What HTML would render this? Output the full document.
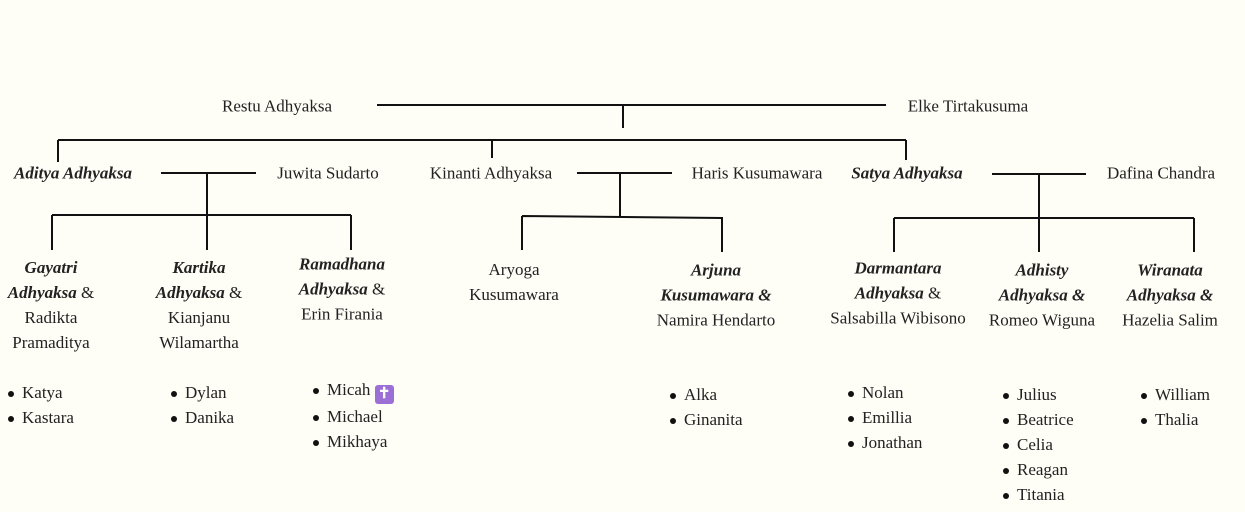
<!DOCTYPE html>
<html><head><meta charset="utf-8"><style>
body{margin:0;width:1245px;height:512px;background:#fefdf6;font-family:"Liberation Serif",serif;font-size:17px;color:#222;position:relative;overflow:hidden}
.t{position:absolute;white-space:nowrap;transform:translate(-50%,-50%);text-align:center;line-height:25px}
.b{font-style:italic;font-weight:bold}
.l{position:absolute;line-height:25px;white-space:nowrap}
.l div:before{content:"";display:inline-block;width:6px;height:6px;border-radius:50%;background:#111;margin-right:8px;vertical-align:middle}
svg{position:absolute;left:0;top:0}
.x{display:inline-block;width:19px;height:19px;background:#9b6fd6;color:#fff;border-radius:3px;text-align:center;line-height:19px;font-size:15px;font-weight:bold;vertical-align:-3px}
</style></head><body>
<svg width="1245" height="512" stroke="#111" stroke-width="2" fill="none">
<path d="M377 105H886M623 105V128M58 140H906M58 140V162M492 140V158M906 140V160"/>
<path d="M161 173H256M207 173V250M52 215H351M52 215V250M351 215V250"/>
<path d="M577 173H672M620 173V216M522 216L722 218M522 216V250M722 217V252"/>
<path d="M992 174H1086M1039 174V252M894 218H1194M894 218V252M1194 218V252"/>
</svg>
<div class="t" style="left:277px;top:106px">Restu Adhyaksa</div>
<div class="t" style="left:968px;top:106px">Elke Tirtakusuma</div>
<div class="t b" style="left:73px;top:173px">Aditya Adhyaksa</div>
<div class="t" style="left:328px;top:173px">Juwita Sudarto</div>
<div class="t" style="left:491px;top:173px">Kinanti Adhyaksa</div>
<div class="t" style="left:757px;top:173px">Haris Kusumawara</div>
<div class="t b" style="left:907px;top:173px">Satya Adhyaksa</div>
<div class="t" style="left:1161px;top:173px">Dafina Chandra</div>

<div class="t" style="left:51px;top:305px"><span class="b">Gayatri</span><br><span class="b">Adhyaksa</span> &amp;<br>Radikta<br>Pramaditya</div>
<div class="t" style="left:199px;top:305px"><span class="b">Kartika</span><br><span class="b">Adhyaksa</span> &amp;<br>Kianjanu<br>Wilamartha</div>
<div class="t" style="left:342px;top:289px"><span class="b">Ramadhana</span><br><span class="b">Adhyaksa</span> &amp;<br>Erin Firania</div>
<div class="t" style="left:514px;top:282px">Aryoga<br>Kusumawara</div>
<div class="t" style="left:716px;top:295px"><span class="b">Arjuna</span><br><span class="b">Kusumawara &amp;</span><br>Namira Hendarto</div>
<div class="t" style="left:898px;top:293px"><span class="b">Darmantara</span><br><span class="b">Adhyaksa</span> &amp;<br>Salsabilla Wibisono</div>
<div class="t" style="left:1042px;top:295px"><span class="b">Adhisty</span><br><span class="b">Adhyaksa &amp;</span><br>Romeo Wiguna</div>
<div class="t" style="left:1170px;top:295px"><span class="b">Wiranata</span><br><span class="b">Adhyaksa &amp;</span><br>Hazelia Salim</div>

<div class="l" style="left:8px;top:380px"><div>Katya</div><div>Kastara</div></div>
<div class="l" style="left:171px;top:380px"><div>Dylan</div><div>Danika</div></div>
<div class="l" style="left:313px;top:377px"><div>Micah <span class="x">✝</span></div><div>Michael</div><div>Mikhaya</div></div>
<div class="l" style="left:670px;top:382px"><div>Alka</div><div>Ginanita</div></div>
<div class="l" style="left:848px;top:380px"><div>Nolan</div><div>Emillia</div><div>Jonathan</div></div>
<div class="l" style="left:1003px;top:382px"><div>Julius</div><div>Beatrice</div><div>Celia</div><div>Reagan</div><div>Titania</div></div>
<div class="l" style="left:1141px;top:382px"><div>William</div><div>Thalia</div></div>
</body></html>
